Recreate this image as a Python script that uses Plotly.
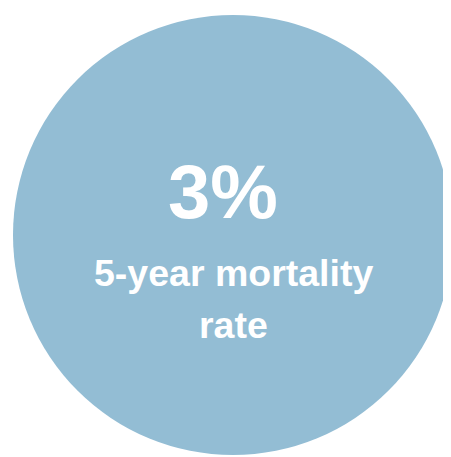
import plotly.graph_objects as go

# Data
stat_value = 3
stat_suffix = "%"
label_lines = ["5-year mortality", "rate"]
slice_values = [1]
circle_color = "#93BDD4"

fig = go.Figure()
fig.add_trace(go.Pie(
    values=slice_values,
    labels=["all"],
    marker=dict(colors=[circle_color], line=dict(width=0)),
    textinfo="none",
    hoverinfo="skip",
    sort=False,
    showlegend=False,
))

font_family = "Liberation Sans, Arial, sans-serif"
fig.add_annotation(
    text=f"{stat_value}{stat_suffix}", x=0.5, y=0.598, xref="paper", yref="paper",
    xanchor="center", yanchor="middle", showarrow=False, xshift=-10,
    font=dict(family=font_family, size=76, color="white", weight=700),
)
for txt, yy in zip(label_lines, [0.413, 0.296]):
    fig.add_annotation(
        text=txt, x=0.5, y=yy, xref="paper", yref="paper",
        xanchor="center", yanchor="middle", showarrow=False,
        font=dict(family=font_family, size=37.5, color="white", weight=700),
    )

fig.update_layout(
    width=451, height=457,
    margin=dict(l=5, r=6, t=7, b=10),
    paper_bgcolor="white", plot_bgcolor="white",
)
fig.write_html("out.html")
